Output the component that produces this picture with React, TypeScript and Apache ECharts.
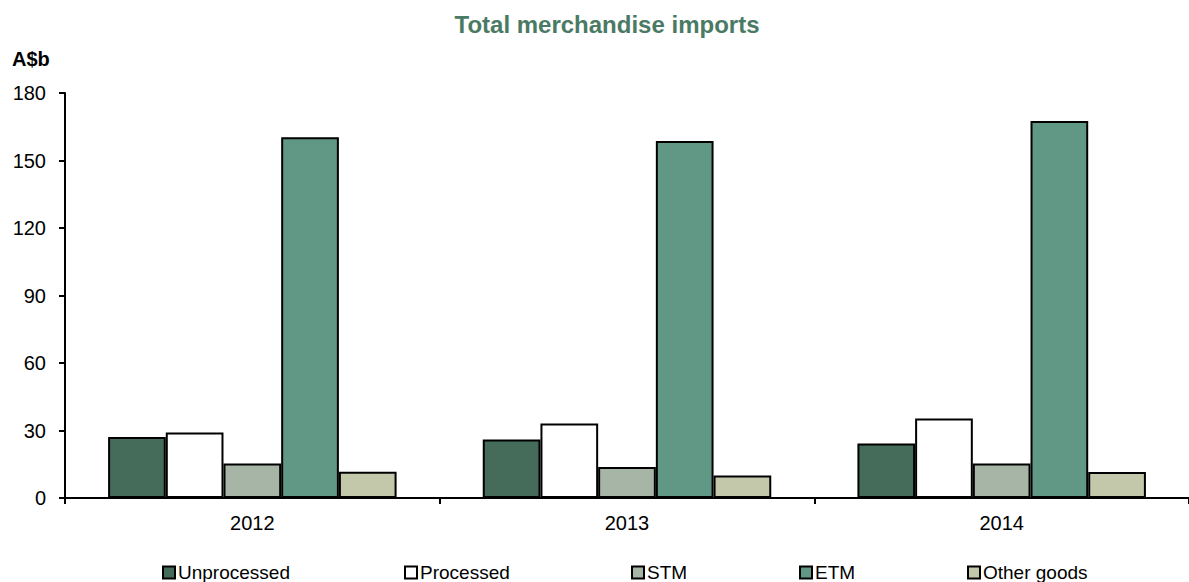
import React, { useEffect, useRef } from "react";
import * as echarts from "echarts";

const categories = ["2012", "2013", "2014"];
const seriesNames = ["Unprocessed", "Processed", "STM", "ETM", "Other goods"];
const unprocessed = [27.1, 26.0, 24.2];
const processed = [29.1, 33.1, 35.3];
const stm = [15.3, 13.8, 15.3];
const etm = [160.3, 158.7, 167.6];
const otherGoods = [11.7, 10.0, 11.6];
const yTicks = { min: 0, max: 180, interval: 30 };

const colors = ["#456b5a", "#ffffff", "#a7b5a6", "#619885", "#c4c8aa"];
const legendLefts = [162, 404, 631, 799, 967];

export default function App() {
  const ref = useRef<HTMLDivElement>(null);
  useEffect(() => {
    if (!ref.current) return;
    const chart = echarts.init(ref.current, null, { renderer: "svg" });
    const values = [unprocessed, processed, stm, etm, otherGoods];
    const font = "Arial, 'Liberation Sans', sans-serif";
    chart.setOption({
      animation: false,
      backgroundColor: "#ffffff",
      title: {
        text: "Total merchandise imports",
        left: 602,
        top: 7,
        textAlign: "center",
        textStyle: { color: "#4a7a64", fontSize: 24, fontWeight: "bold", fontFamily: font },
      },
      graphic: [
        {
          type: "text",
          left: 12,
          top: 49,
          style: { text: "A$b", font: `bold 20px ${font}`, fill: "#000" },
        },
      ],
      legend: seriesNames.map((n, i) => ({
        data: [n],
        left: legendLefts[i],
        top: 563,
        itemWidth: 12,
        itemHeight: 12,
        itemGap: 0,
        padding: 0,
        icon: "rect",
        selectedMode: false,
        textStyle: { fontSize: 19, color: "#000", fontFamily: font, padding: [0, 0, 0, -2] },
        itemStyle: { borderColor: "#000", borderWidth: 2 },
      })),
      grid: { left: 65, width: 1128, top: 93, bottom: 84, containLabel: false },
      xAxis: {
        type: "category",
        data: categories,
        axisLine: { lineStyle: { color: "#000", width: 2 } },
        axisTick: { show: true, length: 6, lineStyle: { color: "#000", width: 2 } },
        axisLabel: { fontSize: 20, color: "#000", fontFamily: font, margin: 15 },
      },
      yAxis: {
        type: "value",
        min: yTicks.min,
        max: yTicks.max,
        interval: yTicks.interval,
        axisLine: { show: true, lineStyle: { color: "#000", width: 2 } },
        axisTick: { show: true, length: 6, lineStyle: { color: "#000", width: 2 } },
        splitLine: { show: false },
        axisLabel: { fontSize: 20, color: "#000", fontFamily: font, margin: 19 },
      },
      series: seriesNames.map((n, i) => ({
        name: n,
        type: "bar",
        data: values[i],
        barGap: "0%",
        barCategoryGap: "23%",
        itemStyle: { color: colors[i], borderColor: "#000", borderWidth: 2 },
      })),
    });
    return () => chart.dispose();
  }, []);
  return (
    <div
      ref={ref}
      style={{ position: "absolute", left: 0, top: 0, width: 1189, height: 582 }}
    />
  );
}
